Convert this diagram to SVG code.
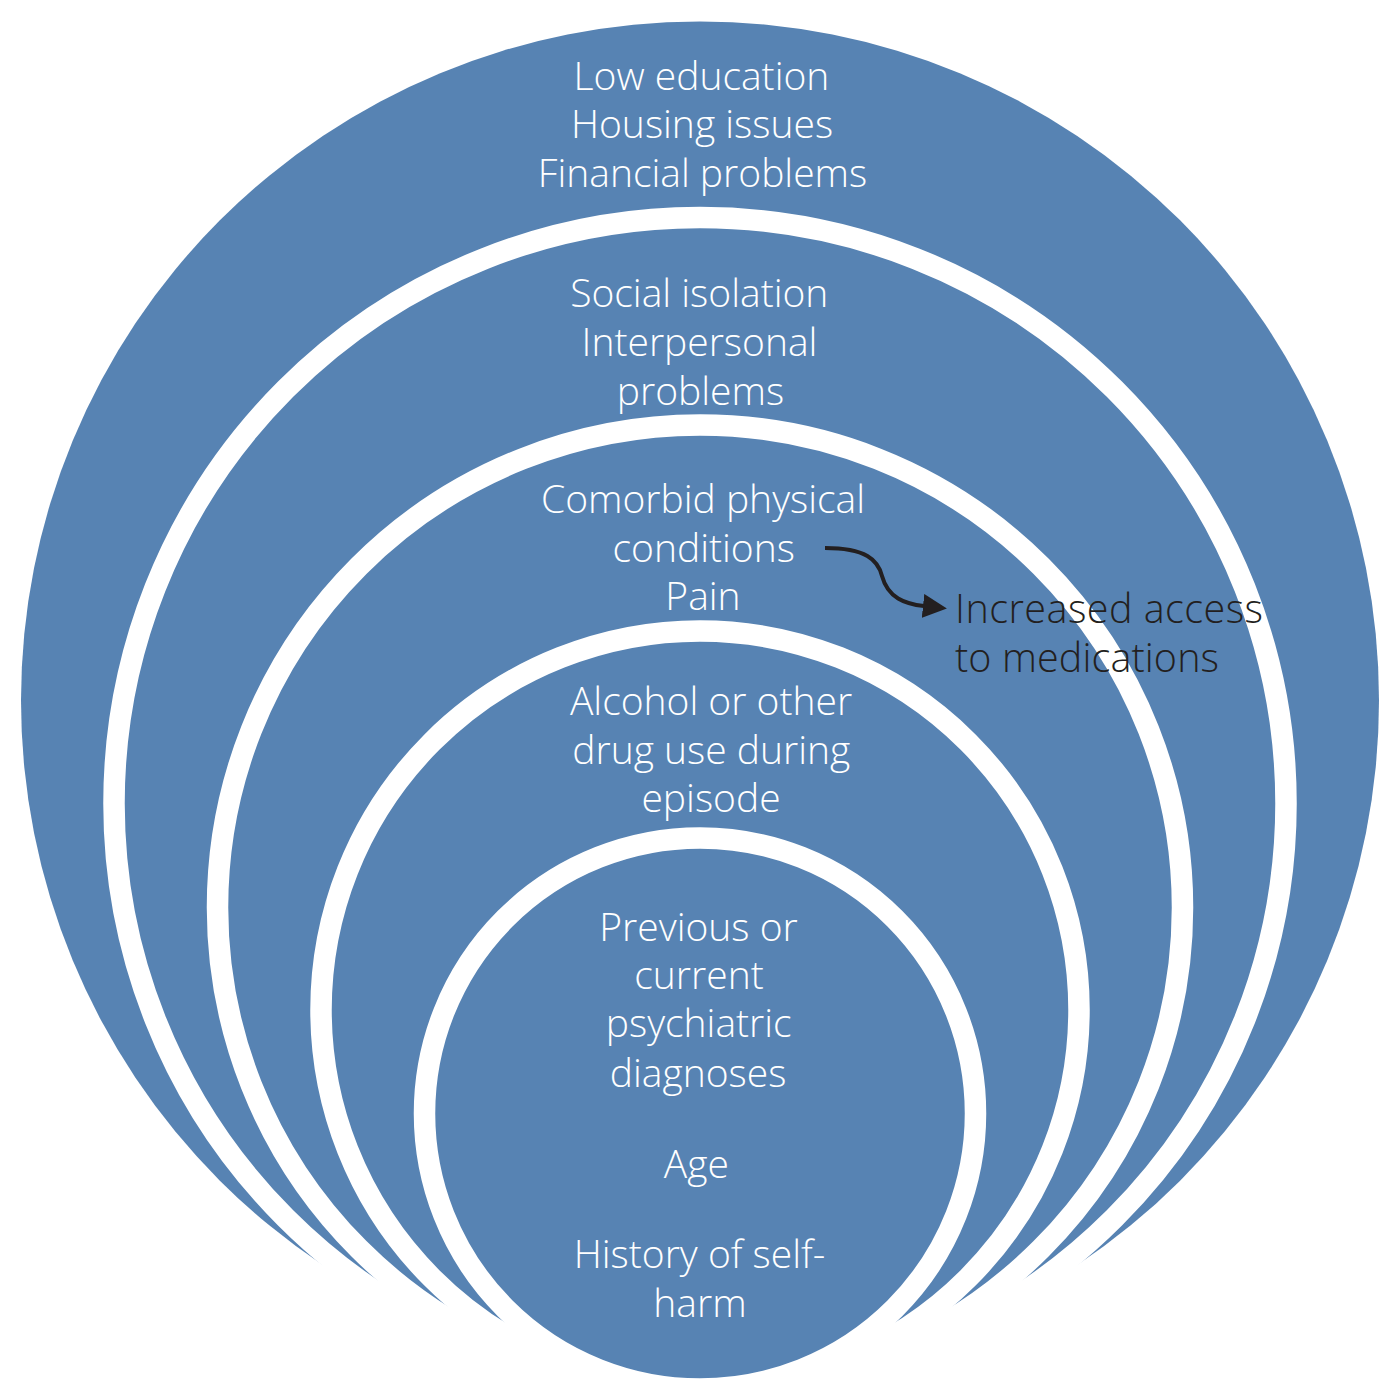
<svg xmlns="http://www.w3.org/2000/svg" width="1400" height="1400" viewBox="0 0 1400 1400">
<style>
.ring{fill:#5783b3;stroke:#ffffff;stroke-width:21.5}
.outer{fill:#5783b3}
.lbl{font-family:"Open Sans","Liberation Sans",sans-serif;font-weight:300;font-size:39px;fill:#ffffff;text-anchor:middle}
.note{font-family:"Open Sans","Liberation Sans",sans-serif;font-weight:300;font-size:39.5px;fill:#231f20}
.conn{fill:none;stroke:#231f20;stroke-width:4}
</style>
<defs>
<marker id="arrow" markerUnits="userSpaceOnUse" viewBox="0 0 24 24" refX="1" refY="12" markerWidth="24" markerHeight="24" orient="auto">
<path d="M0,0 L24,12 L0,24 z" fill="#231f20"/>
</marker>
</defs>
<rect x="0" y="0" width="1400" height="1400" fill="#ffffff"/>
<g id="node-socioeconomic">
<circle class="outer" cx="700" cy="700.5" r="679"/>
<text class="lbl" x="701.5" y="90">Low education</text>
<text class="lbl" x="702" y="138">Housing issues</text>
<text class="lbl" x="702.5" y="186.7">Financial problems</text>
</g>
<g id="node-social">
<circle class="ring" cx="700" cy="803.5" r="586"/>
<text class="lbl" x="699.3" y="306.7">Social isolation</text>
<text class="lbl" x="699.5" y="355.5">Interpersonal</text>
<text class="lbl" x="700.5" y="404.5">problems</text>
</g>
<g id="node-physical">
<circle class="ring" cx="700" cy="907.5" r="482.5"/>
<text class="lbl" x="703" y="512.7">Comorbid physical</text>
<text class="lbl" x="703.7" y="561.7">conditions</text>
<text class="lbl" x="703" y="610">Pain</text>
</g>
<g id="node-substance">
<circle class="ring" cx="700" cy="1010" r="379"/>
<text class="lbl" x="711" y="715">Alcohol or other</text>
<text class="lbl" x="711.3" y="763.5">drug use during</text>
<text class="lbl" x="711" y="812">episode</text>
</g>
<g id="node-individual">
<circle class="ring" cx="700" cy="1113.5" r="275.5"/>
<text class="lbl" x="698.5" y="940.7">Previous or</text>
<text class="lbl" x="699" y="989">current</text>
<text class="lbl" x="698.7" y="1037">psychiatric</text>
<text class="lbl" x="698" y="1086.7">diagnoses</text>
<text class="lbl" x="696.3" y="1177.7">Age</text>
<text class="lbl" x="699.5" y="1268">History of self-</text>
<text class="lbl" x="700" y="1316.7">harm</text>
</g>
<g id="connectors">
<path class="conn" d="M825,548 C866,548 878,560 882,576 C888,598 905,604 924,606" marker-end="url(#arrow)"/>
</g>
<g id="node-access">
<text class="note" x="955" y="623.3" textLength="308" lengthAdjust="spacing">Increased access</text>
<text class="note" x="955" y="671.7" textLength="264" lengthAdjust="spacing">to medications</text>
</g>
</svg>
